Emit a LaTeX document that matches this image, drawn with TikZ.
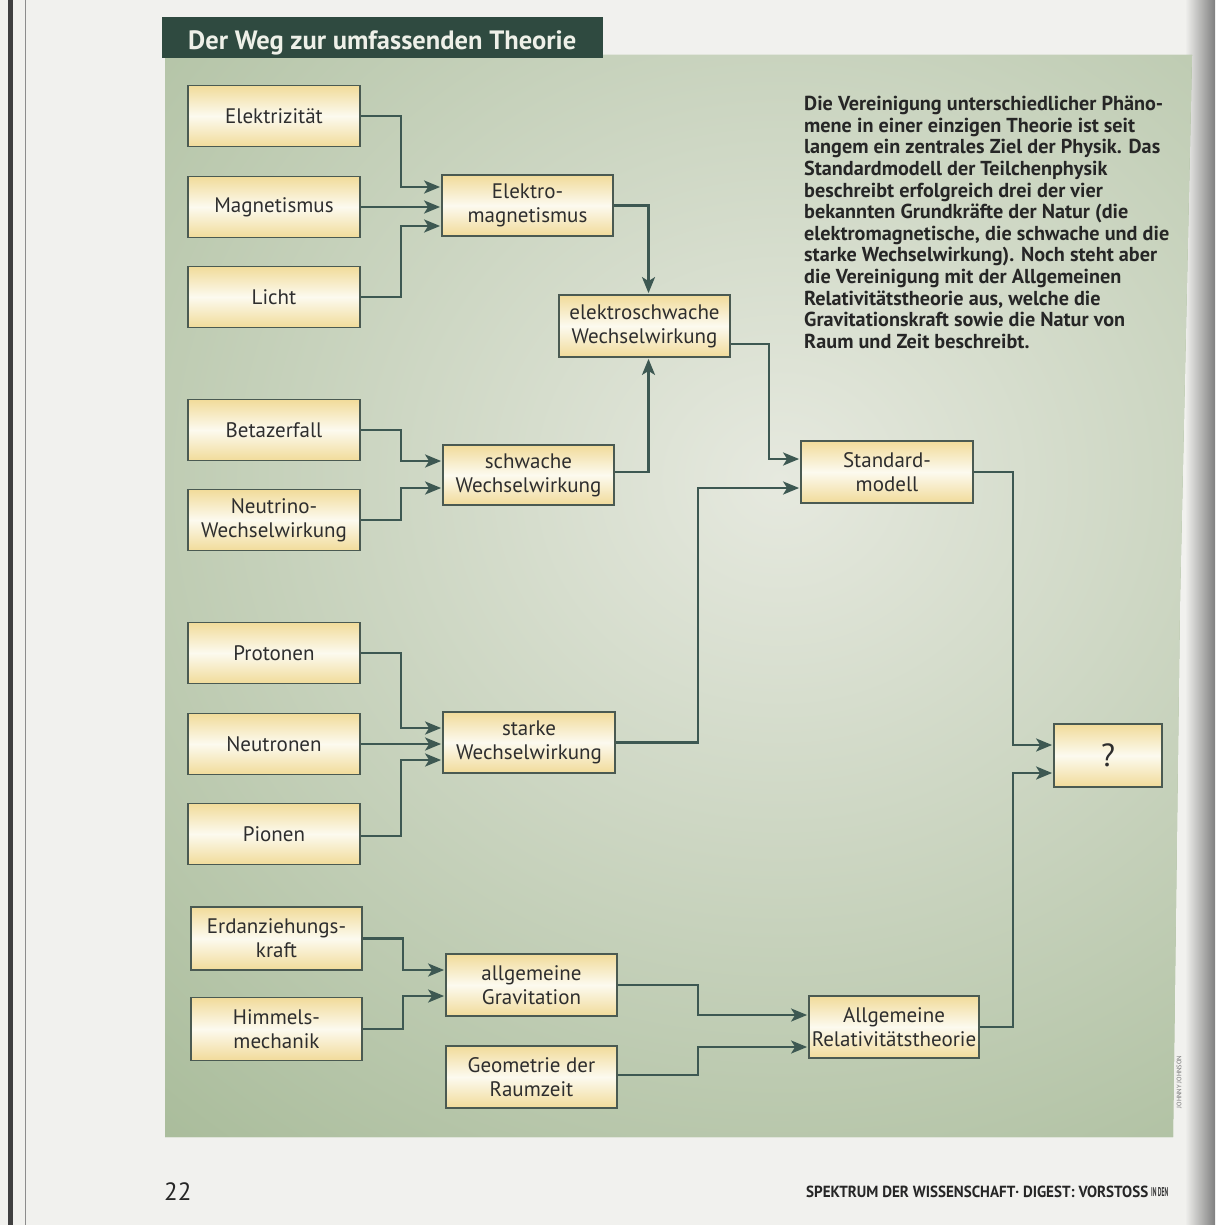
\documentclass[tikz,border=0pt]{standalone}
\usepackage{fontspec}
\setmainfont{PT Sans}
\newfontfamily\boxfont{PT Sans}
\usetikzlibrary{arrows.meta,calc}
\definecolor{pagebg}{HTML}{F1F1EE}
\definecolor{panelgreen}{HTML}{9DB38D}
\definecolor{panellight}{HTML}{E6E9DF}
\definecolor{titlegreen}{HTML}{2F4A40}
\definecolor{titletext}{HTML}{EEF0E8}
\definecolor{boxyel}{HTML}{F1DB9A}
\definecolor{boxwhite}{HTML}{FCFAEF}
\definecolor{boxline}{HTML}{4A5A52}
\definecolor{boxtext}{HTML}{2E2E2E}
\definecolor{arrowcol}{HTML}{3D5852}
\definecolor{paratext}{HTML}{262626}
\tikzset{
  fbox/.style={draw=boxline, line width=1.8pt, top color=boxyel, bottom color=boxyel,
    middle color=boxwhite, align=center, inner sep=0pt, text=boxtext,
    font=\boxfont\fontsize{21}{24}\selectfont},
  wbox/.style={fbox, minimum width=172pt, minimum height=61pt},
  arr/.style={draw=arrowcol, line width=2.4pt,
    -{Stealth[length=16pt,width=13pt,inset=4pt]}, shorten >=1pt}
}
\begin{document}
\begin{tikzpicture}[x=1pt,y=-1pt]
\useasboundingbox (0,0) rectangle (1215,1225);
% page
\fill[pagebg] (0,0) rectangle (1215,1225);
\fill[black!75] (8,0) rectangle (13,1225);
\draw[black!45, line width=1pt] (25,0) -- (25,1225);
\shade[left color=pagebg, right color=black!50] (1185,0) rectangle (1215,1225);
% panel
\fill[panelgreen] (165,55) -- (1192,55) -- (1180,600) -- (1173,1137) -- (165,1137) -- cycle;
\begin{scope}
  \clip (165,55) -- (1192,55) -- (1180,600) -- (1173,1137) -- (165,1137) -- cycle;
  \shade[inner color=panellight, outer color=panelgreen] (780,480) ellipse (1150 and 1050);
\end{scope}
% title
\fill[titlegreen] (162,17) rectangle (603,58);
\node[anchor=base west, text=titletext, inner sep=0pt, font=\bfseries\fontsize{26.5}{28}\selectfont] (title) at (188,50) {Der Weg zur umfassenden Theorie};
% paragraph
\node[anchor=north west, align=left, text=paratext, inner sep=0pt,
  font=\bfseries\fontsize{20.2}{21.6}\selectfont] (para) at (804,96)
  {Die Vereinigung unterschiedlicher Phäno-\\
   mene in einer einzigen Theorie ist seit\\
   langem ein zentrales Ziel der Physik. Das\\
   Standardmodell der Teilchenphysik\\
   beschreibt erfolgreich drei der vier\\
   bekannten Grundkräfte der Natur (die\\
   elektromagnetische, die schwache und die\\
   starke Wechselwirkung). Noch steht aber\\
   die Vereinigung mit der Allgemeinen\\
   Relativitätstheorie aus, welche die\\
   Gravitationskraft sowie die Natur von\\
   Raum und Zeit beschreibt.};
% column 1
\node[wbox] (elek) at (274,116) {Elektrizität};
\node[wbox] (magn) at (274,207) {Magnetismus};
\node[wbox] (licht) at (274,297) {Licht};
\node[wbox] (beta) at (274,430) {Betazerfall};
\node[wbox] (neutrino) at (274,520) {Neutrino-\\Wechselwirkung};
\node[wbox] (proton) at (274,653) {Protonen};
\node[wbox] (neutron) at (274,744) {Neutronen};
\node[wbox] (pion) at (274,834) {Pionen};
\node[fbox, minimum width=171pt, minimum height=63pt] (erd) at (276.5,938.5) {Erdanziehungs-\\kraft};
\node[fbox, minimum width=171pt, minimum height=63pt] (himm) at (276.5,1029) {Himmels-\\mechanik};
% column 2
\node[fbox, minimum width=171pt, minimum height=61pt] (em) at (527.5,205.5) {Elektro-\\magnetismus};
\node[fbox, minimum width=171pt, minimum height=60pt] (schw) at (528.5,475) {schwache\\Wechselwirkung};
\node[wbox] (stark) at (529,742.5) {starke\\Wechselwirkung};
\node[fbox, minimum width=171pt, minimum height=62pt] (gravi) at (531.5,985) {allgemeine\\Gravitation};
\node[fbox, minimum width=171pt, minimum height=62pt] (geom) at (531.5,1077) {Geometrie der\\Raumzeit};
% column 3
\node[fbox, minimum width=171pt, minimum height=62pt] (ews) at (644.5,326) {elektroschwache\\Wechselwirkung};
\node[fbox, minimum width=172pt, minimum height=62pt] (std) at (887,472) {Standard-\\modell};
\node[fbox, minimum width=170pt, minimum height=62pt] (art) at (894,1027) {Allgemeine\\Relativitätstheorie};
\node[fbox, minimum width=108pt, minimum height=63pt, font=\boxfont\fontsize{32}{34}\selectfont] (q) at (1108,755.5) {?};
% connectors
\draw[arr] (elek.east) -- ++(40,0) |- ([yshift=18.5pt]em.west);
\draw[arr] (magn.east) -- (magn.east -| em.west);
\draw[arr] (licht.east) -- ++(40,0) |- ([yshift=-20.5pt]em.west);
\draw[arr] (em.east) -| ([xshift=4pt]ews.north);
\draw[arr] (beta.east) -- ++(40,0) |- ([yshift=14pt]schw.west);
\draw[arr] (neutrino.east) -- ++(40,0) |- ([yshift=-13pt]schw.west);
\draw[arr] ([yshift=3pt]schw.east) -| ([xshift=4pt]ews.south);
\draw[arr] ([yshift=-18pt]ews.east) -- ++(38,0) |- ([yshift=13pt]std.west);
\draw[arr] (stark.east) -- ++(82,0) |- ([yshift=-16pt]std.west);
\draw[arr] (proton.east) -- ++(40,0) |- ([yshift=14.5pt]stark.west);
\draw[arr] (neutron.east) -- (neutron.east -| stark.west);
\draw[arr] ([yshift=-2pt]pion.east) -- ++(40,0) |- ([yshift=-17.5pt]stark.west);
\draw[arr] (std.east) -- ++(39,0) |- ([yshift=10.5pt]q.west);
\draw[arr] (art.east) -- ++(33,0) |- ([yshift=-17.5pt]q.west);
\draw[arr] (erd.east) -- ++(40,0) |- ([yshift=15pt]gravi.west);
\draw[arr] (himm.east) -- ++(40,0) |- ([yshift=-11pt]gravi.west);
\draw[arr] (gravi.east) -- ++(80,0) |- ([yshift=12pt]art.west);
\draw[arr] ([yshift=2pt]geom.east) -- ++(80,0) |- ([yshift=-20pt]art.west);
% credit and footer
\node[rotate=90, text=black!55, font=\fontsize{6.5}{7}\selectfont, inner sep=0pt] (credit) at (1179,1082) {JOHNNY JOHNSON};
\node[anchor=base west, text=black!85, font=\rmfamily\fontsize{25}{28}\selectfont, inner sep=0pt] (page) at (164,1200) {22};
\node[anchor=base west, text=black!85, inner sep=0pt] (footer) at (806,1197)
  {\resizebox{342pt}{11.5pt}{\bfseries SPEKTRUM DER WISSENSCHAFT· DIGEST: VORSTOSS}};
\node[anchor=base west, text=black!80, inner sep=0pt] (footer2) at (1151,1196)
  {\resizebox{17pt}{9pt}{\bfseries IN DEN}};
\end{tikzpicture}
\end{document}
